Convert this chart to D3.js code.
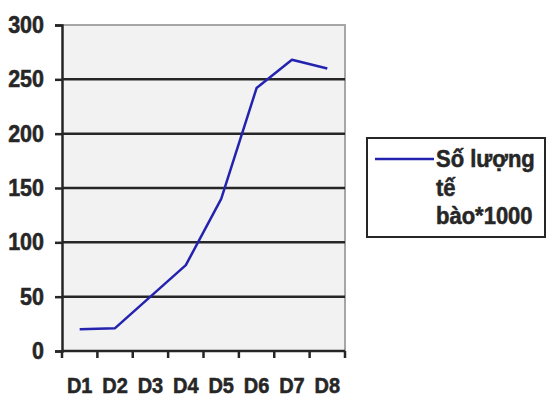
<!DOCTYPE html>
<html lang="vi">
<head>
  <meta charset="UTF-8">
  <title>Số lượng tế bào</title>
  <script src="https://d3js.org/d3.v7.min.js"></script>
  <style>
    body { margin: 0; background: #fff; font-family: "Liberation Sans", Arial, sans-serif; }
    svg text { font-family: "Liberation Sans", Arial, sans-serif; font-weight: 700; fill: #262626;
               stroke: #262626; stroke-width: 0.5px; }
  </style>
</head>
<body>
  <div id="chart"></div>
  <script>
    const days = ["D1", "D2", "D3", "D4", "D5", "D6", "D7", "D8"];
    const cellCounts = [20, 21, 50, 79, 140, 242, 268, 260];
    const yTicks = [0, 50, 100, 150, 200, 250, 300];
    const seriesName = ["Số lượng", "tế", "bào*1000"];

    const W = 547, H = 398;
    const plot = {left: 62, top: 25, right: 345, bottom: 351};
    const ink = "#262626", blue = "#2323b0";

    const svg = d3.select("#chart").append("svg")
      .attr("width", W).attr("height", H);

    const x = d3.scaleBand().domain(days).range([plot.left, plot.right]);
    const y = d3.scaleLinear().domain([0, 300]).range([plot.bottom, plot.top]);

    // nền vùng vẽ
    svg.append("rect")
      .attr("x", plot.left).attr("y", plot.top)
      .attr("width", plot.right - plot.left).attr("height", plot.bottom - plot.top)
      .attr("fill", "#f2f2f2");

    // viền xám trên / phải
    svg.append("path")
      .attr("d", `M${plot.left},${plot.top}H${plot.right}V${plot.bottom}`)
      .attr("fill", "none").attr("stroke", "#a6a6a6").attr("stroke-width", 2);

    // lưới ngang
    svg.append("g").selectAll("line")
      .data(yTicks.filter(d => d > 0 && d < 300))
      .join("line")
      .attr("x1", plot.left).attr("x2", plot.right)
      .attr("y1", d => y(d)).attr("y2", d => y(d))
      .attr("stroke", ink).attr("stroke-width", 2.5);

    // trục y
    const yAxis = svg.append("g")
      .attr("transform", `translate(${plot.left},0)`)
      .call(d3.axisLeft(y).tickValues(yTicks).tickSize(7).tickPadding(11));
    yAxis.select(".domain").attr("stroke", ink).attr("stroke-width", 2.5);
    yAxis.selectAll(".tick line").attr("stroke", ink).attr("stroke-width", 2.5);
    yAxis.selectAll("text")
      .style("font-size", "21.5px")
      .attr("fill", ink)
      .attr("transform", "scale(1,1.08)");

    // trục x, vạch ở mép mỗi nhóm
    const edges = days.map(d => x(d)).concat([plot.right]);
    const xg = svg.append("g");
    xg.append("line")
      .attr("x1", plot.left).attr("x2", plot.right)
      .attr("y1", plot.bottom).attr("y2", plot.bottom)
      .attr("stroke", ink).attr("stroke-width", 2.5);
    xg.selectAll(".tk").data(edges).join("line")
      .attr("x1", d => d).attr("x2", d => d)
      .attr("y1", plot.bottom).attr("y2", plot.bottom + 7)
      .attr("stroke", ink).attr("stroke-width", 2.5);
    xg.selectAll(".lbl").data(days).join("text")
      .attr("transform", d => `translate(${x(d) + x.bandwidth() / 2},393) scale(1,1.12)`)
      .attr("text-anchor", "middle")
      .style("font-size", "20px")
      .text(d => d);

    // đường số liệu
    const line = d3.line()
      .x((d, i) => x(days[i]) + x.bandwidth() / 2)
      .y(d => y(d));
    svg.append("path")
      .datum(cellCounts)
      .attr("d", line)
      .attr("fill", "none")
      .attr("stroke", blue)
      .attr("stroke-width", 2.5)
      .attr("stroke-linejoin", "round");

    // chú thích
    const lg = svg.append("g");
    lg.append("rect")
      .attr("x", 367).attr("y", 138).attr("width", 178).attr("height", 99)
      .attr("fill", "#fff").attr("stroke", ink).attr("stroke-width", 2);
    lg.append("line")
      .attr("x1", 375).attr("x2", 434).attr("y1", 159).attr("y2", 159)
      .attr("stroke", blue).attr("stroke-width", 2.5);
    lg.selectAll(".lt").data(seriesName).join("text")
      .attr("transform", (d, i) => `translate(436,${167 + i * 28.5}) scale(1,1.05)`)
      .style("font-size", "22px")
      .text(d => d);
  </script>
</body>
</html>
